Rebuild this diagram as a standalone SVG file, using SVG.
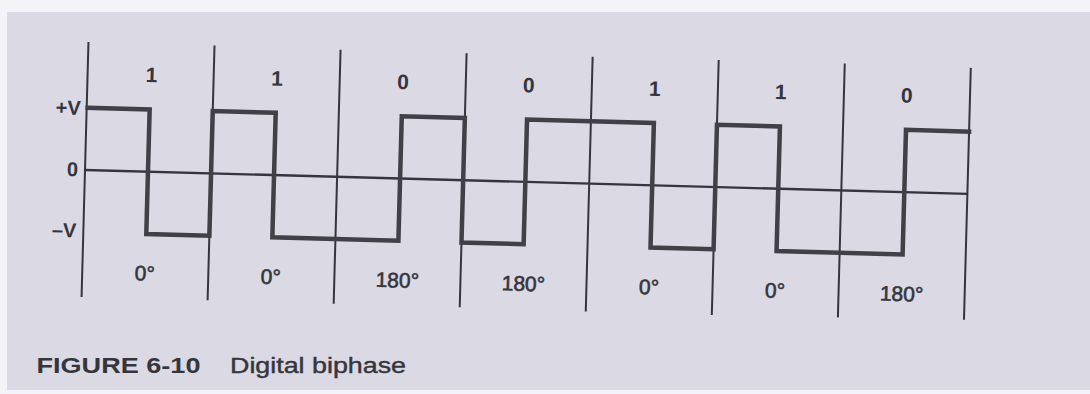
<svg xmlns="http://www.w3.org/2000/svg" width="1090" height="394" viewBox="0 0 1090 394">
  <style>
    .div { stroke: #35353c; stroke-width: 2; fill: none; }
    .zero { stroke: #35353c; stroke-width: 2.4; fill: none; }
    .wave { stroke: #404046; stroke-width: 4.5; fill: none; stroke-linejoin: miter; stroke-linecap: square; }
    .bit { font-family: "Liberation Sans", Arial, sans-serif; font-weight: bold; font-size: 21px; fill: #35353c; text-anchor: middle; }
    .phase { font-family: "Liberation Sans", Arial, sans-serif; font-size: 21px; fill: #35353c; text-anchor: middle; stroke: #35353c; stroke-width: 0.6; }
    .lvl { font-family: "Liberation Sans", Arial, sans-serif; font-weight: bold; font-size: 20px; fill: #35353c; text-anchor: end; }
    .cap { font-family: "Liberation Sans", Arial, sans-serif; font-size: 22px; fill: #35353c; }
  </style>
  <rect x="0" y="0" width="1090" height="394" fill="#f4f3f7"/>
  <rect x="7" y="12" width="1083" height="378" fill="#dad9e4"/>

  <g id="diagram" transform="rotate(1.55 86 170)">
    <g id="connectors">
      <g id="dividers">
        <line class="div" x1="85" y1="42" x2="85" y2="297"/>
        <line class="div" x1="211.1" y1="42" x2="211.1" y2="297"/>
        <line class="div" x1="337.2" y1="43" x2="337.2" y2="297"/>
        <line class="div" x1="463.3" y1="43" x2="463.3" y2="297"/>
        <line class="div" x1="589.4" y1="43" x2="589.4" y2="298"/>
        <line class="div" x1="715.5" y1="43" x2="715.5" y2="298"/>
        <line class="div" x1="841.6" y1="43" x2="841.6" y2="297"/>
        <line class="div" x1="967.7" y1="44" x2="967.7" y2="296"/>
      </g>
      <line id="zero-axis" class="zero" x1="85" y1="170" x2="967.7" y2="170"/>
      <path id="waveform" class="wave" d="M86,107.7 H148 V232.3 H211.1 V107.7 H274.1 V232.3 H400.2 V107.7 H463.3 V232.3 H525.5 V107.7 H652.4 V232.3 H715.5 V107.7 H778.5 V232.3 H904.6 V107.7 H967.7"/>
    </g>

    <g id="levels">
      <text class="lvl" x="79" y="115">+V</text>
      <text class="lvl" x="78" y="176.5">0</text>
      <text class="lvl" x="78" y="237.5">–V</text>
    </g>

    <g id="bit-1a"><text class="bit" x="149" y="80.5">1</text><text class="phase" x="147.5" y="279">0°</text></g>
    <g id="bit-1b"><text class="bit" x="274.5" y="80.5">1</text><text class="phase" x="273.6" y="279">0°</text></g>
    <g id="bit-0a"><text class="bit" x="400.5" y="80.5">0</text><text class="phase" x="400.2" y="279">180°</text></g>
    <g id="bit-0b"><text class="bit" x="526.3" y="80.5">0</text><text class="phase" x="526.3" y="279">180°</text></g>
    <g id="bit-1c"><text class="bit" x="652.4" y="80.5">1</text><text class="phase" x="651.9" y="279">0°</text></g>
    <g id="bit-1d"><text class="bit" x="778.5" y="80.5">1</text><text class="phase" x="778" y="279">0°</text></g>
    <g id="bit-0c"><text class="bit" x="904.6" y="80.5">0</text><text class="phase" x="904.6" y="279">180°</text></g>
  </g>

  <g id="caption">
    <text class="cap" x="36.5" y="373" font-weight="bold" textLength="164" lengthAdjust="spacingAndGlyphs">FIGURE 6-10</text>
    <text class="cap" x="230" y="373" stroke="#35353c" stroke-width="0.4" textLength="176" lengthAdjust="spacingAndGlyphs">Digital biphase</text>
  </g>
</svg>
